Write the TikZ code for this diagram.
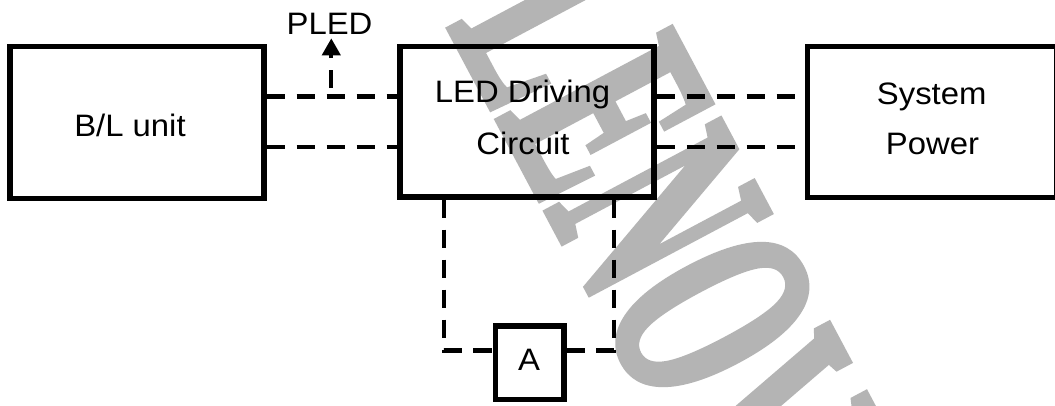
\documentclass[tikz,border=0pt]{standalone}
\usepackage{fontspec}
\setmainfont{Liberation Sans}[FakeStretch=1.06]
\newfontfamily\wmfont{Liberation Serif}[UprightFont=* Bold, FakeBold=3]
\usetikzlibrary{arrows.meta,calc}
\definecolor{wm}{RGB}{180,180,180}
\begin{document}
\begin{tikzpicture}[x=1pt,y=1pt,
  box/.style={draw, line width=5.3pt, inner sep=0pt},
  lbl/.style={font=\fontsize{31}{37}\selectfont, inner sep=0pt, anchor=base},
  conn/.style={line width=4.8pt, dash pattern=on 18.5pt off 11.5pt}]
\path[use as bounding box] (0,0) rectangle (1055,405);
\fill[white] (0,0) rectangle (1055,405);
% watermark
\begin{scope}
\clip (0,0) rectangle (1055,405);
\begin{scope}[shift={(448.9,379.8)}, rotate=-62]
\node[anchor=base west, inner sep=0pt, xscale=0.524, transform shape, text=wm,
      font=\wmfont\fontsize{296}{296}\selectfont] (wmark) at (0,0) {LENOVO};
\end{scope}
\end{scope}
% boxes
\node[box, minimum width=254pt, minimum height=151.6pt] (bl) at (137,282.5) {};
\node[box, minimum width=254pt, minimum height=150.3pt] (led) at (527,283.15) {};
\node[box, minimum width=249.5pt, minimum height=150.8pt] (sys) at (932.25,283.1) {};
\node[box, minimum width=68.5pt, minimum height=73.7pt] (a) at (529.75,42.15) {};
% texts
\node[lbl] (tbl) at (130,268.3) {B/L unit};
\node[lbl] (tled1) at (522.5,302) {LED Driving};
\node[lbl] (tled2) at (523,250) {Circuit};
\node[lbl] (tsys1) at (931.7,300) {System};
\node[lbl] (tsys2) at (932.5,251) {Power};
\node[lbl] (tpled) at (329.5,370.7) {PLED};
\node[lbl] (ta) at (529,34.3) {A};
% connectors
\coordinate (up) at (0,308.5);
\coordinate (lo) at (0,258);
\draw[conn] (bl.east |- up) -- (led.west |- up);
\draw[conn] (bl.east |- lo) -- (led.west |- lo);
\draw[conn] (led.east |- up) -- (sys.west |- up);
\draw[conn] (led.east |- lo) -- (sys.west |- lo);
\coordinate (pj) at (331.3,308.5);
\coordinate (ptip) at (331.3,366.7);
\draw[conn, line width=4pt, dash phase=21.6pt, -{Triangle[width=18pt,length=17pt]}] (pj) -- (ptip);
\coordinate (lc) at (444,54.5);
\coordinate (rc) at (614,54.5);
\draw[conn] (led.south -| lc) -- (lc) -- (a.west |- lc);
\draw[conn] (led.south -| rc) -- (rc) -- (a.east |- rc);
\end{tikzpicture}
\end{document}
